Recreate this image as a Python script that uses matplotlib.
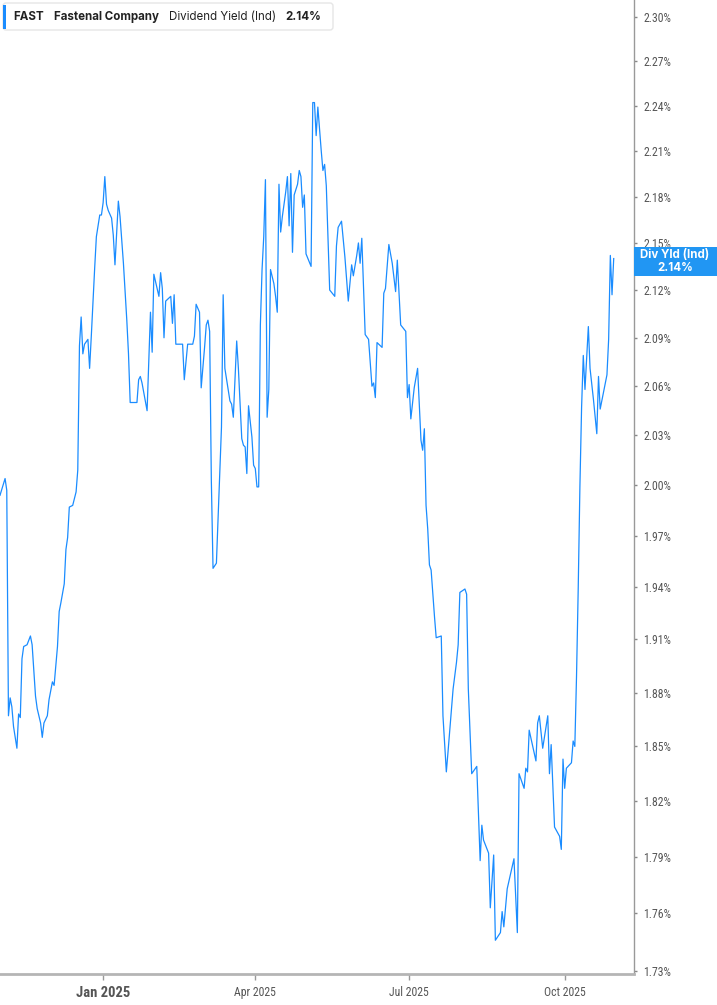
import matplotlib
matplotlib.use('Agg')
import matplotlib.pyplot as plt
import matplotlib.ticker as mticker
from matplotlib.patches import FancyBboxPatch, Rectangle
import pandas as pd

# --- data ---
DATES = [
    '2024-11-01', '2024-11-04', '2024-11-05', '2024-11-06', '2024-11-07', '2024-11-08', '2024-11-09',
    '2024-11-11', '2024-11-12', '2024-11-13', '2024-11-14', '2024-11-15', '2024-11-17', '2024-11-19',
    '2024-11-20', '2024-11-22', '2024-11-23', '2024-11-25', '2024-11-26', '2024-11-27', '2024-11-29',
    '2024-11-30', '2024-12-02', '2024-12-03', '2024-12-05', '2024-12-06', '2024-12-07', '2024-12-09',
    '2024-12-10', '2024-12-11', '2024-12-12', '2024-12-14', '2024-12-16', '2024-12-17', '2024-12-18',
    '2024-12-19', '2024-12-20', '2024-12-21', '2024-12-23', '2024-12-24', '2024-12-25', '2024-12-27',
    '2024-12-28', '2024-12-30', '2024-12-31', '2025-01-01', '2025-01-02', '2025-01-03', '2025-01-04',
    '2025-01-06', '2025-01-07', '2025-01-08', '2025-01-09', '2025-01-10', '2025-01-11', '2025-01-13',
    '2025-01-15', '2025-01-16', '2025-01-17', '2025-01-21', '2025-01-22', '2025-01-23', '2025-01-24',
    '2025-01-27', '2025-01-29', '2025-01-30', '2025-01-31', '2025-02-03', '2025-02-04', '2025-02-05',
    '2025-02-06', '2025-02-07', '2025-02-10', '2025-02-11', '2025-02-12', '2025-02-13', '2025-02-17',
    '2025-02-18', '2025-02-20', '2025-02-23', '2025-02-24', '2025-02-25', '2025-02-27', '2025-02-28',
    '2025-03-02', '2025-03-03', '2025-03-04', '2025-03-05', '2025-03-06', '2025-03-07', '2025-03-09',
    '2025-03-12', '2025-03-13', '2025-03-14', '2025-03-17', '2025-03-18', '2025-03-19', '2025-03-21',
    '2025-03-22', '2025-03-24', '2025-03-25', '2025-03-26', '2025-03-27', '2025-03-28', '2025-03-30',
    '2025-03-31', '2025-04-01', '2025-04-02', '2025-04-03', '2025-04-04', '2025-04-05', '2025-04-06',
    '2025-04-07', '2025-04-08', '2025-04-09', '2025-04-10', '2025-04-12', '2025-04-13', '2025-04-14',
    '2025-04-15', '2025-04-16', '2025-04-17', '2025-04-19', '2025-04-20', '2025-04-21', '2025-04-22',
    '2025-04-23', '2025-04-24', '2025-04-26', '2025-04-27', '2025-04-28', '2025-04-29', '2025-04-30',
    '2025-05-01', '2025-05-04', '2025-05-05', '2025-05-06', '2025-05-07', '2025-05-08', '2025-05-10',
    '2025-05-11', '2025-05-12', '2025-05-13', '2025-05-15', '2025-05-18', '2025-05-19', '2025-05-20',
    '2025-05-21', '2025-05-22', '2025-05-24', '2025-05-26', '2025-05-28', '2025-05-29', '2025-05-31',
    '2025-06-01', '2025-06-02', '2025-06-03', '2025-06-05', '2025-06-07', '2025-06-09', '2025-06-10',
    '2025-06-11', '2025-06-12', '2025-06-15', '2025-06-16', '2025-06-17', '2025-06-19', '2025-06-21',
    '2025-06-23', '2025-06-24', '2025-06-26', '2025-06-29', '2025-06-30', '2025-07-01', '2025-07-02',
    '2025-07-04', '2025-07-06', '2025-07-08', '2025-07-09', '2025-07-10', '2025-07-11', '2025-07-12',
    '2025-07-13', '2025-07-14', '2025-07-16', '2025-07-17', '2025-07-20', '2025-07-21', '2025-07-23',
    '2025-07-24', '2025-07-27', '2025-07-29', '2025-07-30', '2025-07-31', '2025-08-03', '2025-08-04',
    '2025-08-05', '2025-08-07', '2025-08-10', '2025-08-12', '2025-08-13', '2025-08-14', '2025-08-17',
    '2025-08-18', '2025-08-20', '2025-08-21', '2025-08-24', '2025-08-25', '2025-08-26', '2025-08-28',
    '2025-09-01', '2025-09-03', '2025-09-04', '2025-09-07', '2025-09-08', '2025-09-09', '2025-09-10',
    '2025-09-14', '2025-09-15', '2025-09-16', '2025-09-18', '2025-09-21', '2025-09-22', '2025-09-23',
    '2025-09-25', '2025-09-28', '2025-09-29', '2025-09-30', '2025-10-01', '2025-10-02', '2025-10-05',
    '2025-10-06', '2025-10-07', '2025-10-08', '2025-10-09', '2025-10-10', '2025-10-11', '2025-10-12',
    '2025-10-13', '2025-10-15', '2025-10-16', '2025-10-18', '2025-10-20', '2025-10-21', '2025-10-22',
    '2025-10-26', '2025-10-27', '2025-10-28', '2025-10-29', '2025-10-30',
]

YIELD = [
    1.994, 2.004, 1.997, 1.867, 1.877, 1.872, 1.861,
    1.849, 1.868, 1.866, 1.899, 1.906, 1.907, 1.912,
    1.907, 1.878, 1.871, 1.863, 1.855, 1.863, 1.867,
    1.876, 1.886, 1.884, 1.906, 1.926, 1.931, 1.942,
    1.962, 1.969, 1.987, 1.988, 1.996, 2.009, 2.085,
    2.103, 2.080, 2.086, 2.089, 2.071, 2.091, 2.134,
    2.154, 2.168, 2.168, 2.176, 2.193, 2.175, 2.171,
    2.166, 2.155, 2.136, 2.157, 2.177, 2.167, 2.137,
    2.101, 2.080, 2.050, 2.050, 2.064, 2.066, 2.062,
    2.045, 2.106, 2.081, 2.130, 2.116, 2.131, 2.121,
    2.090, 2.113, 2.116, 2.099, 2.117, 2.086, 2.086,
    2.064, 2.086, 2.086, 2.091, 2.111, 2.106, 2.059,
    2.084, 2.098, 2.101, 2.094, 2.003, 1.951, 1.954,
    2.035, 2.117, 2.071, 2.051, 2.049, 2.041, 2.088,
    2.071, 2.028, 2.024, 2.023, 2.007, 2.048, 2.029,
    2.012, 2.010, 1.999, 1.999, 2.098, 2.133, 2.154,
    2.191, 2.041, 2.058, 2.133, 2.124, 2.116, 2.106,
    2.188, 2.157, 2.167, 2.183, 2.193, 2.161, 2.195,
    2.144, 2.181, 2.188, 2.197, 2.193, 2.173, 2.181,
    2.143, 2.135, 2.242, 2.242, 2.220, 2.239, 2.210,
    2.197, 2.201, 2.187, 2.120, 2.116, 2.148, 2.160,
    2.162, 2.164, 2.141, 2.113, 2.136, 2.129, 2.142,
    2.150, 2.137, 2.153, 2.092, 2.089, 2.060, 2.062,
    2.053, 2.087, 2.084, 2.118, 2.121, 2.149, 2.137,
    2.119, 2.139, 2.098, 2.094, 2.053, 2.061, 2.040,
    2.059, 2.071, 2.027, 2.021, 2.034, 1.988, 1.974,
    1.953, 1.950, 1.923, 1.911, 1.912, 1.867, 1.836,
    1.847, 1.882, 1.897, 1.907, 1.937, 1.939, 1.936,
    1.882, 1.835, 1.839, 1.788, 1.807, 1.799, 1.792,
    1.763, 1.791, 1.746, 1.750, 1.761, 1.753, 1.773,
    1.789, 1.750, 1.835, 1.827, 1.838, 1.836, 1.859,
    1.842, 1.863, 1.867, 1.849, 1.867, 1.835, 1.851,
    1.806, 1.801, 1.794, 1.843, 1.827, 1.838, 1.841,
    1.853, 1.850, 1.889, 1.939, 1.999, 2.047, 2.079,
    2.058, 2.097, 2.071, 2.052, 2.031, 2.066, 2.046,
    2.067, 2.089, 2.142, 2.117, 2.140,
]

Y_TICKS = [1.73, 1.76, 1.79, 1.82, 1.85, 1.88, 1.91, 1.94, 1.97, 2.00,
           2.03, 2.06, 2.09, 2.12, 2.15, 2.18, 2.21, 2.24, 2.27, 2.30]
X_TICKS = ['2025-01-01', '2025-04-01', '2025-07-01', '2025-10-01']
X_LABELS = ['Jan 2025', 'Apr 2025', 'Jul 2025', 'Oct 2025']
X_RANGE = ['2024-11-01', '2025-11-11']
Y_RANGE = [1.7285, 2.3117]

TICKER = 'FAST'
COMPANY = 'Fastenal Company'
METRIC = 'Dividend Yield (Ind)'
LAST_LABEL = 'Div Yld (Ind)'
LAST_VALUE = '2.14%'

BLUE = '#1a8cff'
BOX_BLUE = '#2196f3'
HEAD_FONT = ['Inter', 'Roboto', 'DejaVu Sans']
TICK_FONT = ['Roboto Condensed', 'Liberation Sans Narrow', 'Roboto', 'DejaVu Sans']

W, H = 717, 1005
fig = plt.figure(figsize=(W / 100, H / 100), dpi=100)
ax = fig.add_axes([0, 31 / H, 634 / W, 974 / H])

dates = pd.to_datetime(DATES)
ax.plot(dates, YIELD, color=BLUE, lw=0.9)

ax.set_yscale('log')
ax.set_ylim(*Y_RANGE)
ax.set_xlim(pd.to_datetime(X_RANGE[0]), pd.to_datetime(X_RANGE[1]))

ax.yaxis.tick_right()
ax.yaxis.set_minor_locator(mticker.NullLocator())
ax.set_yticks(Y_TICKS)
ax.set_yticklabels([f'{v:.2f}%' for v in Y_TICKS])
ax.set_xticks(pd.to_datetime(X_TICKS))
ax.set_xticklabels(X_LABELS)

ax.tick_params(axis='y', direction='out', length=2.5, width=1, color='#888888',
               labelsize=8.5, labelcolor='#555555', pad=4)
ax.tick_params(axis='x', direction='out', length=4, width=1, color='#999999',
               labelsize=8.5, labelcolor='#555555', pad=4.5)
for lab in ax.get_yticklabels() + ax.get_xticklabels():
    lab.set_fontfamily(TICK_FONT)
jan = ax.get_xticklabels()[0]
jan.set_fontweight('bold')
jan.set_fontsize(10.5)

for side in ['left', 'top']:
    ax.spines[side].set_visible(False)
ax.spines['right'].set_color('#999999')
ax.spines['right'].set_linewidth(1.0)
ax.spines['bottom'].set_color('#b5b5b5')
ax.spines['bottom'].set_linewidth(2.0)

# header box, top left (pixel coords, origin bottom-left)
hdr = FancyBboxPatch((3, H - 30), 330, 27, boxstyle='round,pad=0,rounding_size=3',
                     transform=None, facecolor='white', edgecolor='#e6e6e6', lw=1)
fig.add_artist(hdr)
fig.add_artist(Rectangle((3, H - 29), 3, 24, transform=None, facecolor=BLUE, edgecolor='none'))

renderer = fig.canvas.get_renderer()
x_px = 13
head_y = 1 - 17 / H
for txt, weight in [(TICKER, 'bold'), (COMPANY, 'bold'), (METRIC, 'normal'), (LAST_VALUE, 'bold')]:
    t = fig.text(x_px / W, head_y, txt, fontfamily=HEAD_FONT, fontweight=weight, fontsize=8.3,
                 color='#222222', va='center')
    x_px += t.get_window_extent(renderer).width + 10

# last value marker box on the right axis
fig.add_artist(Rectangle((634, H - 276), 83, 29, transform=None,
                         facecolor=BOX_BLUE, edgecolor='none'))
fig.text(675 / W, 1 - 255.5 / H, LAST_LABEL, fontfamily=HEAD_FONT, fontweight='bold',
         fontsize=8.3, color='white', ha='center', va='center')
fig.text(675 / W, 1 - 267.5 / H, LAST_VALUE, fontfamily=HEAD_FONT, fontweight='bold',
         fontsize=8.3, color='white', ha='center', va='center')

fig.savefig('out.png', dpi=100)
